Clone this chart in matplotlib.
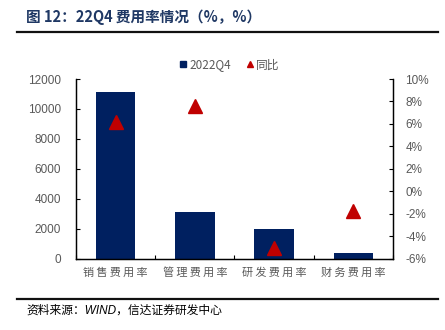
import matplotlib.pyplot as plt
from matplotlib.lines import Line2D
import numpy as np

plt.rcParams['font.family'] = ['Noto Sans CJK SC', 'DejaVu Sans']

# 22Q4 expense data
categories = ['销售费用率', '管理费用率', '研发费用率', '财务费用率']
amount_2022q4 = [11150, 3100, 2030, 390]
yoy_pct = [6.2, 7.6, -5.0, -1.7]

left_ticks = [0, 2000, 4000, 6000, 8000, 10000, 12000]
right_ticks = [-6, -4, -2, 0, 2, 4, 6, 8, 10]

bar_color = '#002060'
tri_color = '#C00000'
tick_color = '#595959'

fig = plt.figure(figsize=(4.45, 3.3), dpi=100)
ax = fig.add_axes([0.1708, 0.2152, 0.7123, 0.5454])
ax2 = ax.twinx()

x = np.arange(len(categories))
ax.bar(x, amount_2022q4, width=0.5, color=bar_color, zorder=2)
ax2.plot(x, yoy_pct, linestyle='none', marker='^', markersize=9.5,
         color=tri_color, zorder=3)

ax.set_xlim(-0.5, len(categories) - 0.5)
ax.set_ylim(0, 12000)
ax.set_yticks(left_ticks)
ax.set_yticklabels([str(v) for v in left_ticks], fontfamily='Liberation Sans',
                   fontsize=8.5, color=tick_color)
ax2.set_ylim(-6, 10)
ax2.set_yticks(right_ticks)
ax2.set_yticklabels([f'{v}%' for v in right_ticks], fontfamily='Liberation Sans',
                    fontsize=8.5, color=tick_color)

# category boundary ticks on the x axis, names centred under each bar
ax.set_xticks(np.arange(-0.5, len(categories), 1.0))
ax.set_xticklabels([])
ax.set_xticks(x, minor=True)
ax.set_xticklabels(['\u2009'.join(c) for c in categories], minor=True, fontsize=8,
                   color=tick_color, fontweight='light',
                   fontfamily=['Noto Sans CJK SC', 'DejaVu Sans'])
ax.tick_params(axis='x', which='minor', length=0, pad=6)
ax.tick_params(axis='x', which='major', direction='in', length=3, width=0.8)
ax.tick_params(axis='y', direction='in', length=3, width=0.8, pad=11)
ax2.tick_params(axis='y', direction='in', length=3, width=0.8, pad=9)

for a in (ax, ax2):
    a.spines['top'].set_visible(False)
    for s in ('left', 'right', 'bottom'):
        a.spines[s].set_linewidth(0.9)
        a.spines[s].set_color('#000000')

handles = [
    Line2D([], [], linestyle='none', marker='s', markersize=5, color=bar_color),
    Line2D([], [], linestyle='none', marker='^', markersize=5, color=tri_color),
]
fig.legend(handles, ['2022Q4', '同比'], loc='center', bbox_to_anchor=(0.516, 0.803),
           ncol=2, frameon=False, fontsize=8.5, handlelength=0.6,
           handletextpad=0.2, columnspacing=1.3, labelcolor=tick_color)

# header and footer
fig.text(0.058, 0.948, '图 12：22Q4 费用率情况（%，%）', fontsize=10.5,
         fontweight='bold', color='#1F3864', va='center', ha='left')
fig.add_artist(Line2D([0.038, 0.984], [0.902, 0.902], color='#111111', linewidth=1.6))
fig.add_artist(Line2D([0.038, 0.984], [0.093, 0.093], color='#111111', linewidth=1.6))
fig.text(0.06, 0.06, '资料来源：WIND，信达证券研发中心', fontsize=8.5,
         family=['Liberation Sans', 'Noto Sans CJK SC'], style='italic',
         color='#000000', va='center', ha='left')

fig.savefig('out.png', dpi=100)
